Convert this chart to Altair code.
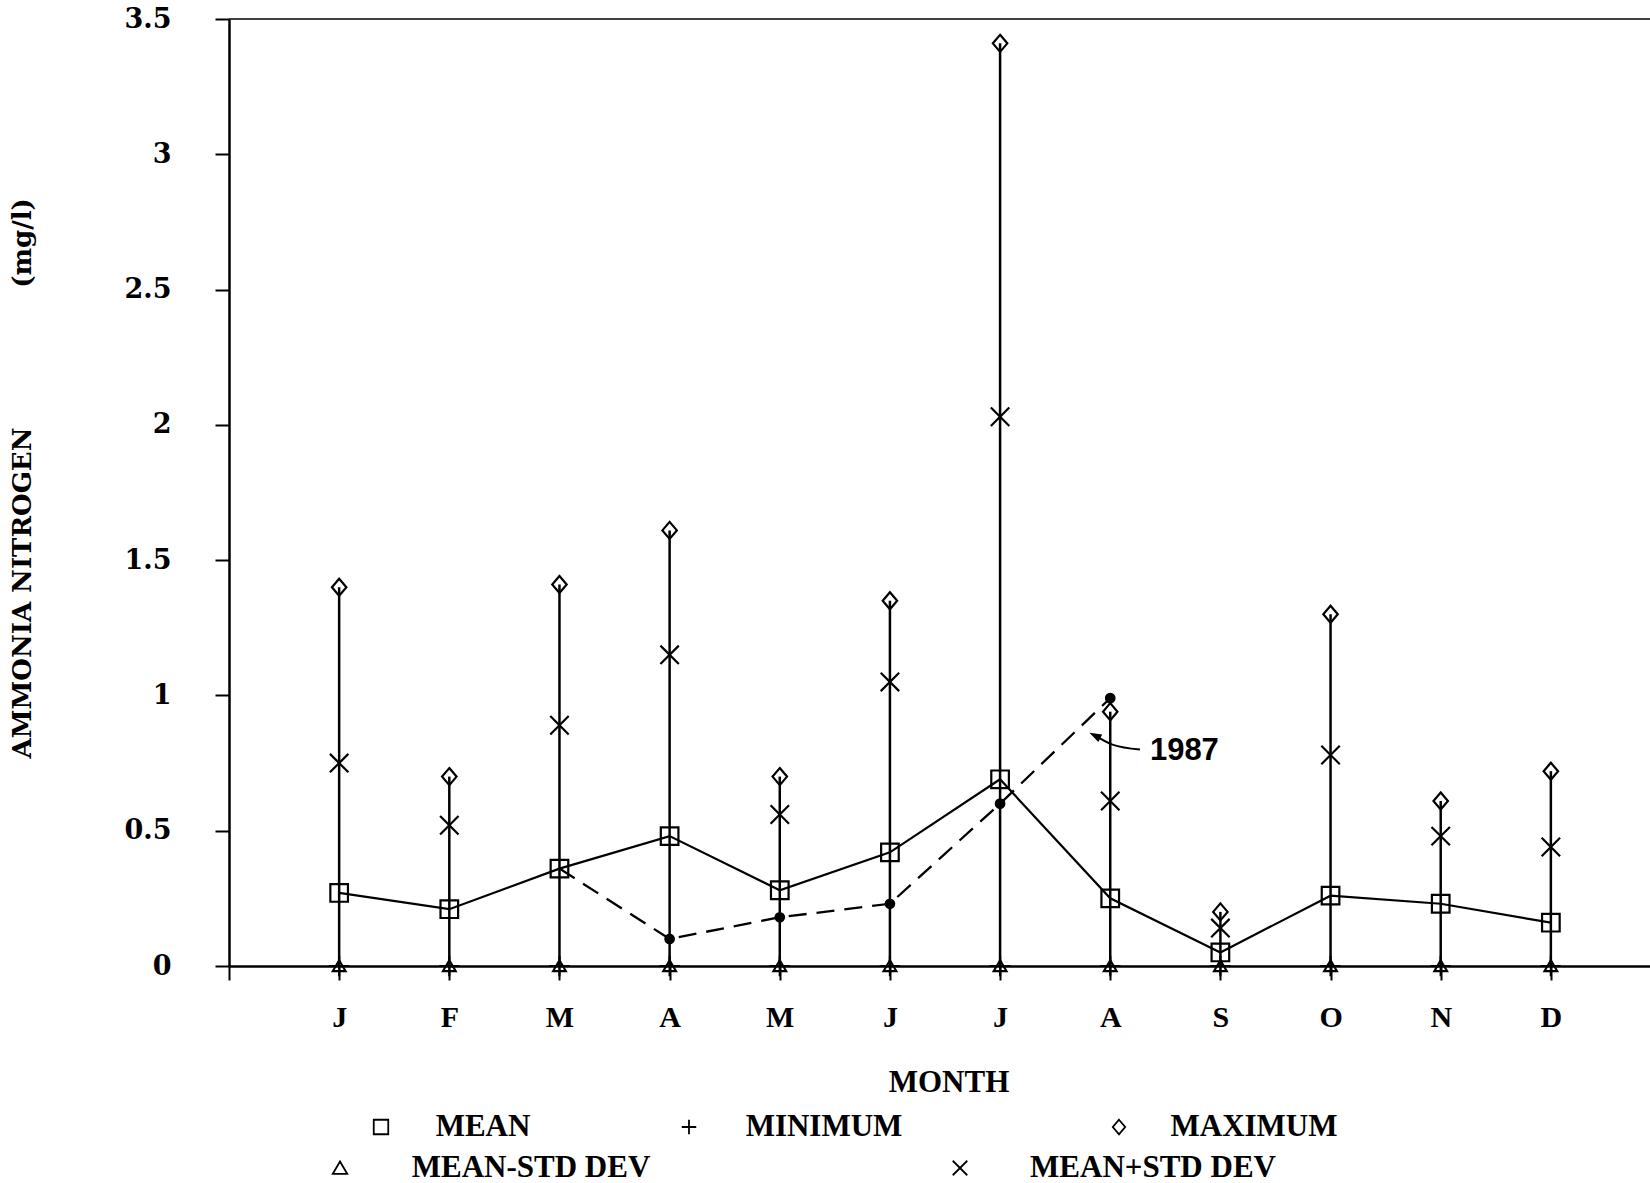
import altair as alt
import pandas as pd

# ---------------- data ----------------
months = ["J", "F", "M", "A", "M", "J", "J", "A", "S", "O", "N", "D"]
month_num = [1, 2, 3, 4, 5, 6, 7, 8, 9, 10, 11, 12]
mean = [0.27, 0.21, 0.36, 0.48, 0.28, 0.42, 0.69, 0.25, 0.05, 0.26, 0.23, 0.16]
minimum = [0.0, 0.0, 0.0, 0.0, 0.0, 0.0, 0.0, 0.0, 0.0, 0.0, 0.0, 0.0]
maximum = [1.40, 0.70, 1.41, 1.61, 0.70, 1.35, 3.41, 0.94, 0.20, 1.30, 0.61, 0.72]
mean_minus_sd = [0.0, 0.0, 0.0, 0.0, 0.0, 0.0, 0.0, 0.0, 0.0, 0.0, 0.0, 0.0]
mean_plus_sd = [0.75, 0.52, 0.89, 1.15, 0.56, 1.05, 2.03, 0.61, 0.14, 0.78, 0.48, 0.44]

y1987_months = [3, 4, 5, 6, 7, 8]
y1987_values = [0.36, 0.10, 0.18, 0.23, 0.60, 0.99]
y1987_dot = [False, True, True, True, True, True]

annotation_text = ["1987"]
annotation_x = [8.36]
annotation_y = [0.795]
arrow_x = [8.27, 8.02, 7.86]
arrow_y = [0.800, 0.818, 0.852]

legend_labels = ["MEAN", "MINIMUM", "MAXIMUM", "MEAN-STD DEV", "MEAN+STD DEV"]
x_title = "MONTH"
y_title_parts = ["AMMONIA NITROGEN", "(mg/l)"]
y_ticks = [0, 0.5, 1, 1.5, 2, 2.5, 3, 3.5]

# ---------------- layout ----------------
W, H = 1421, 947
PAD = {"left": 229, "top": 19, "right": 0, "bottom": 217}
legend_sym_x = [152, 460, 890, 111, 731]
legend_txt_x = [254, 595, 1025, 302, 924]
legend_row_y = [1108, 1108, 1108, 1149, 1149]

SQUARE = "M-1,-1H1V1H-1Z"
PLUS = "M-1,0H1M0,-1V1"
DIAMOND = "M0,-1L0.85,0L0,1L-0.85,0Z"
TRIANGLE = "M0,-0.9L1,0.8L-1,0.8Z"
XMARK = "M-1,-1L1,1M-1,1L1,-1"

SERIF = "Liberation Serif"

df = pd.DataFrame({
    "month": month_num,
    "mean": mean,
    "minimum": minimum,
    "maximum": maximum,
    "msd_minus": mean_minus_sd,
    "msd_plus": mean_plus_sd,
})
df87 = pd.DataFrame({"month": y1987_months, "value": y1987_values, "dot": y1987_dot})
dfann = pd.DataFrame({"x": annotation_x, "y": annotation_y, "t": annotation_text})
dfarrow = pd.DataFrame({"x": arrow_x, "y": arrow_y, "o": [0, 1, 2]})
dfleg = pd.DataFrame({"label": legend_labels, "sx": legend_sym_x,
                      "tx": legend_txt_x, "ry": legend_row_y})

month_arr = "[" + ",".join("'%s'" % m for m in months) + "]"

axis_x = alt.Axis(
    values=list(range(0, 13)),
    labelExpr="datum.value == 0 ? '' : " + month_arr + "[datum.value - 1]",
    title=None, grid=False, tickSize=14, tickWidth=2, tickColor="black",
    domainColor="black", domainWidth=2.5,
    labelFont=SERIF, labelFontWeight="bold", labelFontSize=30, labelColor="black",
    labelPadding=37, labelBaseline="middle", labelAngle=0,
    labelFlush=False, labelOverlap=False,
)
axis_y = alt.Axis(
    values=y_ticks, format="~g", title=None, grid=False,
    tickSize=14, tickWidth=2, tickColor="black",
    domainColor="black", domainWidth=2.5,
    labelFont="DejaVu Serif", labelFontWeight="bold", labelFontSize=27,
    labelColor="black", labelPadding=44, labelBaseline="middle",
    labelFlush=False, labelOverlap=False,
)
xscale = alt.Scale(domain=[0, 12.9], nice=False, zero=False)
yscale = alt.Scale(domain=[0, 3.5], nice=False)


def X(field="month"):
    return alt.X(f"{field}:Q", scale=xscale, axis=axis_x)


def Y(field):
    return alt.Y(f"{field}:Q", scale=yscale, axis=axis_y)


base = alt.Chart(df)

whiskers = base.mark_rule(color="black", strokeWidth=2.5).encode(
    x=X(), y=Y("minimum"), y2="maximum:Q")

mean_line = base.mark_line(color="black", strokeWidth=2.2).encode(x=X(), y=Y("mean"))

line87 = alt.Chart(df87).mark_line(color="black", strokeWidth=2.3, strokeDash=[18, 10]).encode(
    x=X(), y=Y("value"))
dots87 = alt.Chart(df87).transform_filter("datum.dot").mark_circle(
    color="black", size=115, opacity=1).encode(x=X(), y=Y("value"))


def pts(field, shape, size, filled=False, sw=2.2):
    return base.mark_point(shape=shape, size=size, filled=filled, color="black",
                           strokeWidth=sw, opacity=1).encode(x=X(), y=Y(field))


p_mean = pts("mean", SQUARE, 310)
p_min = pts("minimum", PLUS, 420)
p_max = pts("maximum", DIAMOND, 290)
p_msdm = pts("msd_minus", TRIANGLE, 160)
p_msdp = pts("msd_plus", XMARK, 340)

top_line = alt.Chart(pd.DataFrame({"y": [3.5]})).mark_rule(color="black", strokeWidth=1.5).encode(
    y=Y("y"), x=alt.value(0), x2=alt.value(W))

ann_text = alt.Chart(dfann).mark_text(
    align="left", baseline="middle", font="Liberation Sans", fontWeight="bold",
    fontSize=31, color="black").encode(x=X("x"), y=Y("y"), text="t:N")
arrow_line = alt.Chart(dfarrow).mark_line(color="black", strokeWidth=2, interpolate="monotone").encode(
    x=X("x"), y=Y("y"), order="o:Q")
arrow_head = alt.Chart(dfarrow).transform_filter("datum.o == 2").mark_point(
    shape="M0,-1L0.7,1L-0.7,1Z", size=150, filled=True, color="black", angle=297,
    opacity=1).encode(x=X("x"), y=Y("y"))

# titles
x_title_layer = alt.Chart(pd.DataFrame({"t": [x_title]})).mark_text(
    font=SERIF, fontWeight="bold", fontSize=31, color="black", align="center",
    baseline="middle").encode(x=alt.value(720), y=alt.value(1064), text="t:N")
y_title_layer = alt.Chart(pd.DataFrame({"t": y_title_parts, "py": [574, 224]})).mark_text(
    font="DejaVu Serif", fontWeight="bold", fontSize=26, color="black", align="center",
    baseline="middle", angle=270).encode(
    x=alt.value(-206), y=alt.Y("py:Q", scale=None), text="t:N")

# legend
leg_text = alt.Chart(dfleg).mark_text(
    font=SERIF, fontWeight="bold", fontSize=31, color="black", align="center",
    baseline="middle").encode(
    x=alt.X("tx:Q", scale=None), y=alt.Y("ry:Q", scale=None), text="label:N")
leg_sym = alt.Chart(dfleg).mark_point(filled=False, color="black", strokeWidth=1.8,
                                      size=210, opacity=1).encode(
    x=alt.X("sx:Q", scale=None), y=alt.Y("ry:Q", scale=None),
    shape=alt.Shape("label:N", scale=alt.Scale(domain=legend_labels,
                                               range=[SQUARE, PLUS, DIAMOND, TRIANGLE, XMARK]),
                    legend=None))

chart = alt.layer(
    top_line, whiskers, mean_line, line87, dots87,
    p_min, p_msdm, p_msdp, p_max, p_mean,
    arrow_line, arrow_head, ann_text,
    x_title_layer, y_title_layer, leg_text, leg_sym,
).properties(
    width=W, height=H, padding=PAD,
    autosize=alt.AutoSizeParams(type="none"),
    background="white",
).configure_view(stroke=None)

chart.save("out.html", embed_options={"renderer": "svg", "actions": False})
